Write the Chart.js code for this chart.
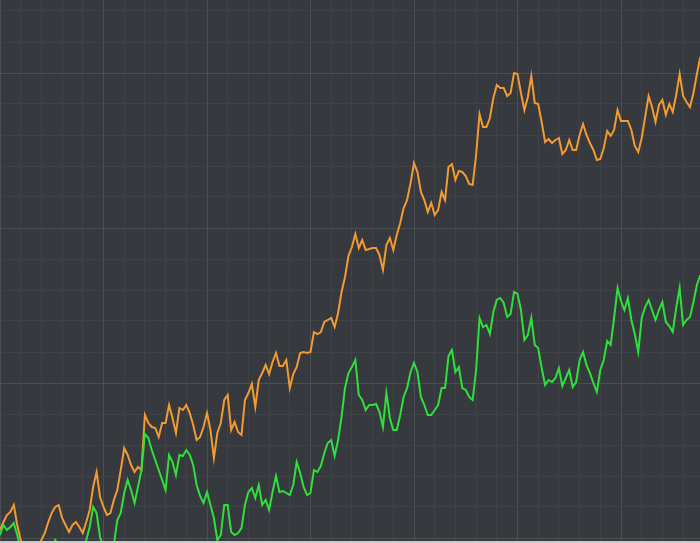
<!DOCTYPE html>
<html>
<head>
<meta charset="utf-8">
<script src="https://cdn.jsdelivr.net/npm/chart.js@4"></script>
<style>
  html, body { margin: 0; padding: 0; background: #36393d; }
  #wrap { width: 700px; height: 543px; }
</style>
</head>
<body>
<div id="wrap"><canvas id="myChart" width="700" height="543"></canvas></div>
<script>
// values, one point per step
const orangeValues = [
  8, 16, 23, 26, 33, 13, -2, -12, -17, -22, -17, -10, -2, 5, 16, 25, 31, 33, 20, 13,
  6, 13, 16, 11, 5, 16, 28, 51, 66, 41, 31, 23, 25, 38, 48, 68, 90, 83, 73, 66,
  71, 68, 123, 115, 111, 110, 101, 115, 115, 133, 120, 105, 130, 128, 133, 125, 113, 98, 101, 111,
  125, 108, 80, 105, 115, 138, 143, 108, 116, 106, 103, 138, 145, 154, 131, 158, 165, 173, 164, 176,
  185, 172, 172, 178, 150, 164, 171, 185, 186, 185, 186, 206, 204, 206, 216, 218, 220, 211, 225, 246,
  261, 282, 291, 304, 290, 298, 288, 289, 290, 290, 283, 268, 293, 300, 288, 303, 315, 330, 338, 355,
  375, 366, 346, 338, 326, 335, 323, 328, 346, 338, 371, 374, 358, 367, 366, 362, 354, 353, 383, 424,
  411, 411, 420, 440, 453, 450, 450, 442, 445, 465, 464, 445, 428, 441, 462, 435, 434, 416, 396, 399,
  395, 398, 400, 384, 388, 398, 388, 388, 403, 414, 403, 395, 388, 378, 379, 390, 407, 402, 408, 428,
  417, 417, 417, 408, 392, 386, 400, 421, 442, 431, 416, 433, 438, 423, 434, 426, 443, 464, 442, 436,
  431, 445, 464, 481
];
const greenValues = [
  3, 13, 8, 11, 15, 3, -12, -22, -32, -37, -32, -27, -32, -27, -22, -14, -2, -7, -17, -22,
  -27, -32, -27, -22, -12, -2, 11, 31, 25, 1, -10, -17, -17, -7, 18, 25, 45, 58, 48, 35,
  51, 68, 104, 100, 88, 78, 68, 58, 48, 83, 76, 63, 83, 82, 88, 83, 73, 53, 42, 35,
  46, 33, 20, -2, 3, 33, 33, 6, 3, 5, 10, 33, 46, 50, 40, 53, 33, 38, 28, 46,
  62, 46, 47, 45, 43, 53, 76, 65, 51, 43, 45, 68, 66, 72, 85, 95, 98, 82, 98, 121,
  150, 165, 171, 178, 143, 138, 128, 133, 133, 134, 126, 111, 145, 120, 108, 108, 123, 141, 150, 166,
  175, 166, 141, 133, 123, 123, 128, 133, 150, 150, 182, 188, 166, 171, 150, 148, 141, 138, 168, 220,
  211, 213, 204, 226, 238, 240, 235, 221, 224, 246, 244, 228, 198, 203, 220, 193, 190, 170, 153, 158,
  156, 160, 170, 152, 160, 168, 151, 156, 178, 186, 173, 165, 155, 146, 168, 178, 197, 193, 220, 250,
  237, 228, 240, 218, 204, 186, 220, 231, 238, 228, 218, 228, 236, 216, 212, 206, 230, 250, 213, 218,
  221, 236, 253, 263
];

// grid steps
const xMinorStep = 6;
const xMajorStep = 30;
const yMinorStep = 31;
const yMajorStep = 155;

const orangeColor = '#f39a33';
const greenColor = '#2fe03a';

function toPoints(values) {
  return values.map((v, i) => ({ x: i, y: v }));
}

const bottomBar = {
  id: 'bottomBar',
  afterDraw(chart) {
    const c = chart.ctx;
    c.save();
    c.fillStyle = '#c9cbcd';
    c.fillRect(0, chart.height - 2, chart.width, 2);
    c.restore();
  }
};

function grafik() {
  const ctx = document.getElementById('myChart').getContext('2d');
  return new Chart(ctx, {
    type: 'line',
    data: {
      datasets: [
        {
          label: 'green',
          data: toPoints(greenValues),
          borderColor: greenColor,
          borderWidth: 2,
          pointRadius: 0,
          tension: 0,
          fill: false
        },
        {
          label: 'orange',
          data: toPoints(orangeValues),
          borderColor: orangeColor,
          borderWidth: 2,
          pointRadius: 0,
          tension: 0,
          fill: false
        }
      ]
    },
    options: {
      responsive: false,
      animation: false,
      layout: { padding: 0, autoPadding: false },
      plugins: { legend: { display: false }, tooltip: { enabled: false } },
      scales: {
        x: {
          type: 'linear',
          min: 0,
          max: 700 / 3.45,
          border: { display: false },
          grid: {
            drawTicks: false,
            color: c => (c.tick.value % xMajorStep === 0 ? '#4b4f53' : '#3f4347')
          },
          ticks: { display: false, stepSize: xMinorStep, includeBounds: false }
        },
        y: {
          min: -5,
          max: 538,
          border: { display: false },
          grid: {
            drawTicks: false,
            color: c => (c.tick.value % yMajorStep === 0 ? '#4b4f53' : '#3f4347')
          },
          ticks: { display: false, stepSize: yMinorStep, includeBounds: false }
        }
      }
    },
    plugins: [bottomBar]
  });
}

const myChart = grafik();
</script>
</body>
</html>
